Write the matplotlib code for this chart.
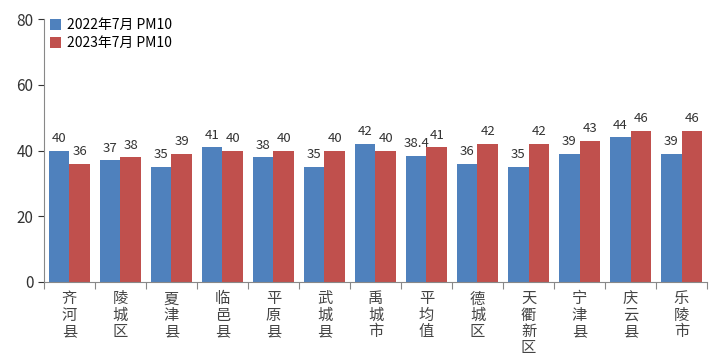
import matplotlib
matplotlib.use("Agg")
import matplotlib.pyplot as plt
import numpy as np

plt.rcParams['font.family'] = ['Noto Sans CJK SC', 'DejaVu Sans']

categories = ["齐河县", "陵城区", "夏津县", "临邑县", "平原县", "武城县", "禹城市",
              "平均值", "德城区", "天衢新区", "宁津县", "庆云县", "乐陵市"]
v2022 = [40, 37, 35, 41, 38, 35, 42, 38.4, 36, 35, 39, 44, 39]
v2023 = [36, 38, 39, 40, 40, 40, 40, 41, 42, 42, 43, 46, 46]
series_names = ["2022年7月 PM10", "2023年7月 PM10"]
yticks = [0, 20, 40, 60, 80]

fig = plt.figure(figsize=(7.2, 3.62), dpi=100)
ax = fig.add_axes([0.061, 0.221, 0.921, 0.7265])

x = np.arange(len(categories))
w = 0.40
blue = "#4F81BD"
red = "#C0504D"
ax.bar(x - w/2, v2022, w, color=blue, label=series_names[0])
ax.bar(x + w/2, v2023, w, color=red, label=series_names[1])

for xi, v in zip(x, v2022):
    ax.annotate(f"{v:g}", (xi - w/2, v), xytext=(0, 4), textcoords="offset points",
                ha="center", va="bottom", fontsize=9.5, color="#333333")
for xi, v in zip(x, v2023):
    ax.annotate(f"{v:g}", (xi + w/2, v), xytext=(0, 4), textcoords="offset points",
                ha="center", va="bottom", fontsize=9.5, color="#333333")

ax.set_xlim(-0.5, len(categories) - 0.5)
ax.set_ylim(0, 80)
ax.set_yticks(yticks)
ax.tick_params(axis='y', labelsize=11, colors="#333333", length=4, direction='out')
for s in ["top", "right"]:
    ax.spines[s].set_visible(False)
for s in ["left", "bottom"]:
    ax.spines[s].set_color("#888888")

ax.set_xticks(np.arange(len(categories) + 1) - 0.5)
ax.set_xticklabels([])
ax.tick_params(axis='x', length=5, color="#888888")
ax.set_xticks(x, minor=True)
ax.set_xticklabels(["\n".join(c) for c in categories], minor=True, fontsize=11,
                   color="#444444", linespacing=0.95)
ax.tick_params(axis='x', which='minor', length=0, pad=6)

ax.legend(loc="upper left", bbox_to_anchor=(-0.005, 1.04), frameon=False, fontsize=10,
          handlelength=0.8, handleheight=0.8, handletextpad=0.4, labelspacing=0.3,
          borderaxespad=0.3)

fig.savefig("out.png", dpi=100)
